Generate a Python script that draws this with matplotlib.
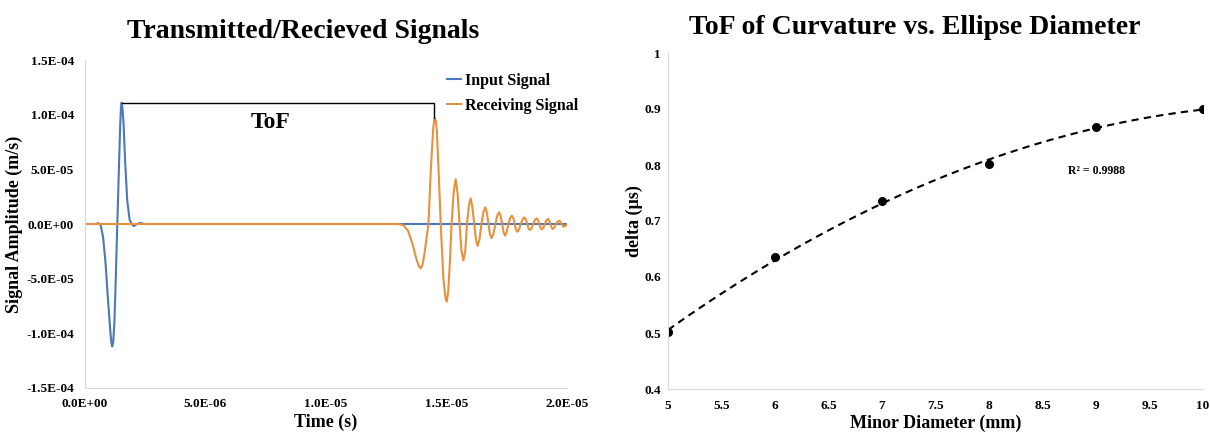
import numpy as np
from matplotlib import pyplot as plt
from matplotlib.ticker import FuncFormatter, MultipleLocator

# input signal (time in microseconds, amplitude in 1e-6 m/s)
input_t = [0, 0.45, 0.55, 0.65, 0.75, 0.85, 0.95, 1.05, 1.09, 1.13, 1.17, 1.22, 1.27, 1.34,
           1.40, 1.46, 1.49, 1.52, 1.55, 1.60, 1.66, 1.75, 1.85, 1.94, 2.02, 2.15, 2.3, 2.45, 20.0]
input_a = [0, 0, 0.8, -1, -12, -35, -68, -98, -108, -112, -108, -90, -55, 0,
           45, 90, 106, 111, 107, 92, 60, 22, 4, 0, -2, 0, 1, 0, 0]

# receiving signal
recv_t = [0, 13.0, 13.2, 13.4, 13.6, 13.75, 13.85, 13.93, 14.01, 14.08, 14.25, 14.35, 14.45,
          14.49, 14.52, 14.56, 14.60, 14.68, 14.76, 14.87, 14.96, 15.01, 15.07, 15.14,
          15.21, 15.30, 15.38, 15.46, 15.54, 15.62, 15.70, 15.78, 15.85, 15.93, 16.00,
          16.07, 16.15, 16.22, 16.29, 16.37, 16.45, 16.53, 16.61, 16.68, 16.74, 16.80,
          16.87, 16.95, 17.03, 17.10, 17.18, 17.25, 17.31, 17.37, 17.43, 17.50, 17.57,
          17.64, 17.71, 17.78, 17.83, 17.88, 17.94, 18.01, 18.08, 18.16, 18.23, 18.30,
          18.35, 18.40, 18.46, 18.53, 18.60, 18.67, 18.74, 18.80, 18.85, 18.90, 18.95,
          19.02, 19.08, 19.14, 19.20, 19.26, 19.31, 19.36, 19.41, 19.47, 19.54, 19.60,
          19.67, 19.73, 19.78, 19.85, 19.92, 20.0]
recv_a = [0, 0, -1, -6, -19, -32, -38.5, -40.5, -37, -28, 0, 50, 88,
          95, 96.7, 94, 85, 45, 0, -50, -68, -71, -62, -35,
          0, 30, 40.9, 28, 0, -24, -33.5, -24, 0, 17, 23.5,
          16, 0, -14, -20, -14, 0, 11, 15.3, 10, 0, -9,
          -13, -9, 0, 7.5, 10.7, 7, 0, -7.5, -10.7, -7, 0,
          5.4, 7.6, 5, 0, -5, -7, -5, 0, 4.3, 6.1, 4,
          0, -4, -5.5, -4, 0, 3.7, 5.2, 3.5, 0, -3.5, -4.9,
          -3.5, 0, 3.2, 4.6, 3.2, 0, -3.2, -4.6, -3.2, 0, 2,
          3, 2, 0, -2.5, -2, -0.5]

# ToF bracket: from input peak to receiving peak
tof_start = (1.52, 111)
tof_end = (14.49, 96.7)

# right chart
diameter = [5, 6, 7, 8, 9, 10]
delta = [0.502, 0.635, 0.735, 0.801, 0.868, 0.900]

plt.rcParams['font.family'] = ['Liberation Serif', 'DejaVu Serif']
plt.rcParams['font.weight'] = 'bold'

fig = plt.figure(figsize=(12.1, 4.34), dpi=100)
W, H = 1210, 434

def fig_axes(l, t, r, b):
    return fig.add_axes([l / W, 1 - b / H, (r - l) / W, (b - t) / H])

grey = '#d9d9d9'

# ---- left chart ----
ax1 = fig_axes(85, 60, 567, 388)
s = 1e-6
ax1.plot(np.array(input_t) * s, np.array(input_a) * s, color='#4a78b8', lw=1.5, label='Input Signal')
ax1.plot(np.array(recv_t) * s, np.array(recv_a) * s, color='#e8913c', lw=1.5, label='Receiving Signal')
ax1.plot([tof_start[0] * s, tof_end[0] * s, tof_end[0] * s],
         [tof_start[1] * s, tof_start[1] * s, tof_end[1] * s], color='black', lw=1)
ax1.text(7.7e-6, 9.3e-5, 'ToF', fontsize=17, fontweight='bold', ha='center', va='center')
ax1.set_xlim(0, 2e-5)
ax1.set_ylim(-1.5e-4, 1.5e-4)
ax1.xaxis.set_major_locator(MultipleLocator(5e-6))
ax1.yaxis.set_major_locator(MultipleLocator(5e-5))
ax1.xaxis.set_major_formatter(FuncFormatter(lambda v, p: f'{v:.1E}'))
ax1.yaxis.set_major_formatter(FuncFormatter(lambda v, p: f'{v:.1E}'))
ax1.tick_params(length=0, labelsize=9.5)
ax1.tick_params(axis='y', pad=8)
ax1.tick_params(axis='x', pad=7)
for sp in ['top', 'right']:
    ax1.spines[sp].set_visible(False)
for sp in ['left', 'bottom']:
    ax1.spines[sp].set_color(grey)
ax1.set_xlabel('Time (s)', fontsize=13, fontweight='bold', labelpad=3)
ax1.set_ylabel('Signal Amplitude (m/s)', fontsize=13, fontweight='bold', labelpad=2)
fig.text(303 / W, 1 - 31 / H, 'Transmitted/Recieved Signals', fontsize=20, fontweight='bold',
         ha='center', va='center')
ax1.legend(loc='upper left', bbox_to_anchor=(447 / W, 1 - 73 / H), bbox_transform=fig.transFigure,
           frameon=False, fontsize=11.5, handlelength=0.9, handletextpad=0.2,
           labelspacing=0.55, borderpad=0, borderaxespad=0)

# ---- right chart ----
ax2 = fig_axes(668, 53, 1203, 389)
coef = np.polyfit(diameter, delta, 2)
xf = np.linspace(diameter[0], diameter[-1], 100)
ax2.plot(xf, np.polyval(coef, xf), color='black', lw=1.5, ls=(0, (3.5, 2.5)))
ax2.plot(diameter, delta, 'o', color='black', ms=5.5)
ax2.text(9.0, 0.79, 'R² = 0.9988', fontsize=8.5, fontweight='bold', ha='center', va='center')
ax2.set_xlim(5, 10)
ax2.set_ylim(0.4, 1)
ax2.xaxis.set_major_locator(MultipleLocator(0.5))
ax2.yaxis.set_major_locator(MultipleLocator(0.1))
ax2.xaxis.set_major_formatter(FuncFormatter(lambda v, p: f'{v:g}'))
ax2.yaxis.set_major_formatter(FuncFormatter(lambda v, p: f'{v:g}'))
ax2.tick_params(length=0, labelsize=9.5)
ax2.tick_params(axis='y', pad=5)
ax2.tick_params(axis='x', pad=8)
for sp in ['top', 'right']:
    ax2.spines[sp].set_visible(False)
for sp in ['left', 'bottom']:
    ax2.spines[sp].set_color(grey)
ax2.set_xlabel('Minor Diameter (mm)', fontsize=13, fontweight='bold', labelpad=2)
ax2.set_ylabel('delta (µs)', fontsize=13, fontweight='bold', labelpad=1)
fig.text(915 / W, 1 - 28 / H, 'ToF of Curvature vs. Ellipse Diameter', fontsize=20,
         fontweight='bold', ha='center', va='center')

fig.savefig('out.png', dpi=100)
